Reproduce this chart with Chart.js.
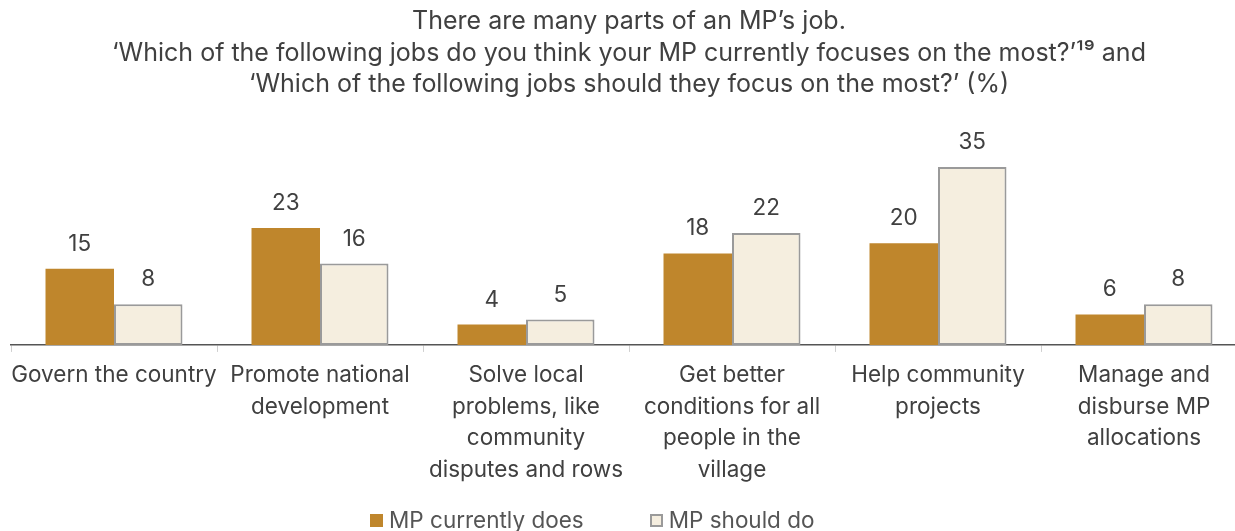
<!doctype html>
<html lang="en">
<head>
<meta charset="utf-8" />
<title>MP job focus</title>
<script src="https://cdn.jsdelivr.net/npm/chart.js@4.4.4/dist/chart.umd.min.js"></script>
<style>
  html, body { margin: 0; padding: 0; background: #fff; overflow: hidden; }
  .wrap { position: relative; width: 1247px; height: 531px; }
  .legend { position: absolute; left: 370px; top: 506px; display: flex; font: 22.5px Inter, sans-serif; color: #555; white-space: nowrap; line-height: 28px; }
  .legend .item { display: inline-flex; align-items: center; margin-right: 66px; }
  .legend .sw { width: 13px; height: 13px; margin-right: 6px; box-sizing: border-box; }
</style>
</head>
<body>
<div class="wrap">
  <canvas id="chart" width="1247" height="531"></canvas>
  <div class="legend" id="legend"></div>
</div>
<script>
const categories = [
  ["Govern the country"],
  ["Promote national", "development"],
  ["Solve local", "problems, like", "community", "disputes and rows"],
  ["Get better", "conditions for all", "people in the", "village"],
  ["Help community", "projects"],
  ["Manage and", "disburse MP", "allocations"],
];
const currentlyDoes = [15, 23, 4, 18, 20, 6];
const shouldDo = [8, 16, 5, 22, 35, 8];

const TEXT = "#404040";
const FONT = "Inter, sans-serif";

// value labels above each bar
const valueLabels = {
  id: "valueLabels",
  afterDatasetsDraw(chart) {
    const { ctx } = chart;
    ctx.save();
    ctx.font = "22.5px " + FONT;
    ctx.fillStyle = TEXT;
    ctx.textAlign = "center";
    ctx.textBaseline = "alphabetic";
    chart.data.datasets.forEach((ds, di) => {
      chart.getDatasetMeta(di).data.forEach((bar, i) => {
        ctx.fillText(String(ds.data[i]), bar.x, bar.y - 18);
      });
    });
    ctx.restore();
  },
};

const chart = new Chart(document.getElementById("chart"), {
  type: "bar",
  data: {
    labels: categories,
    datasets: [
      {
        label: "MP currently does",
        data: currentlyDoes,
        backgroundColor: "#BF862C",
        borderWidth: 0,
        categoryPercentage: 0.665,
        barPercentage: 1,
      },
      {
        label: "MP should do",
        data: shouldDo,
        backgroundColor: "#F5EEDF",
        borderColor: "#9A9A9A",
        borderWidth: 2,
        borderSkipped: false,
        categoryPercentage: 0.665,
        barPercentage: 1,
      },
    ],
  },
  options: {
    responsive: false,
    animation: false,
    layout: { padding: { left: 11, right: 0, top: 0, bottom: 37.5 } },
    scales: {
      x: {
        offset: true,
        grid: { display: true, offset: true, drawOnChartArea: false, drawTicks: true, tickLength: 7, color: "#d0d0d0" },
        border: { display: true, color: "#555", width: 1.5 },
        ticks: { color: TEXT, font: { family: FONT, size: 22.5, lineHeight: 1.395 }, padding: 8, maxRotation: 0, autoSkip: false },
      },
      y: {
        display: false,
        min: 0,
        max: 40,
      },
    },
    plugins: {
      legend: { display: false },
      tooltip: { enabled: false },
      title: {
        display: true,
        text: [
          "There are many parts of an MP’s job.",
          "‘Which of the following jobs do you think your MP currently focuses on the most?’¹⁹ and",
          "‘Which of the following jobs should they focus on the most?’ (%)",
        ],
        color: TEXT,
        font: { family: FONT, size: 25, weight: "normal", lineHeight: 1.26 },
        padding: { top: 6, bottom: 41 },
      },
    },
  },
  plugins: [valueLabels],
});

// html legend built from the datasets
const legend = document.getElementById("legend");
chart.data.datasets.forEach((ds) => {
  const item = document.createElement("span");
  item.className = "item";
  const sw = document.createElement("span");
  sw.className = "sw";
  sw.style.background = ds.backgroundColor;
  if (ds.borderWidth) sw.style.border = "2px solid " + ds.borderColor;
  item.appendChild(sw);
  item.appendChild(document.createTextNode(ds.label));
  legend.appendChild(item);
});
</script>
</body>
</html>
